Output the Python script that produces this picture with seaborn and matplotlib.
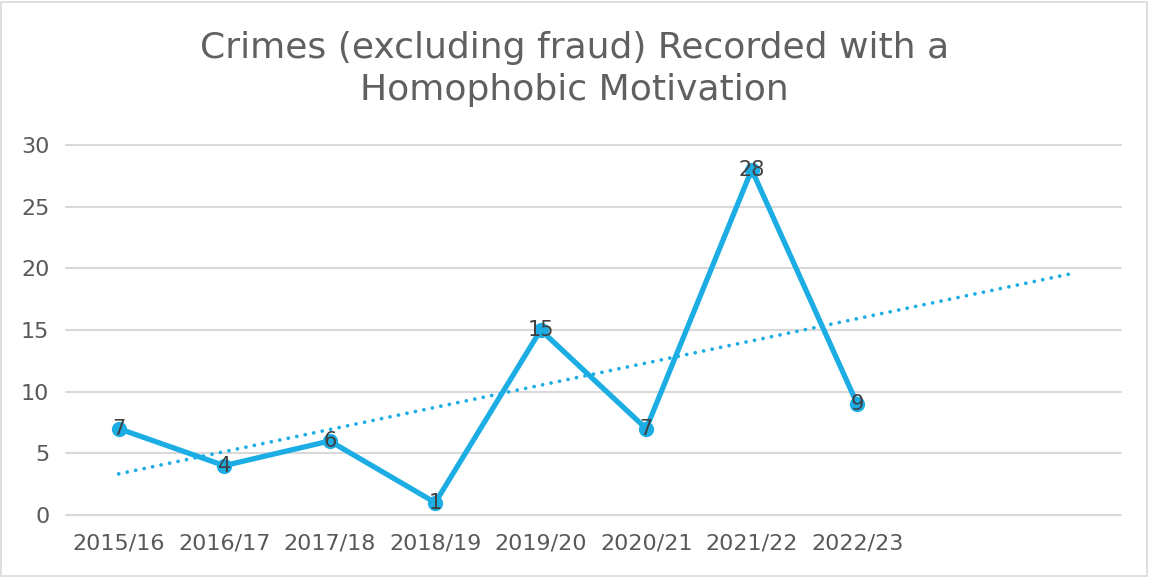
import numpy as np
import pandas as pd
import matplotlib
matplotlib.use("Agg")
import matplotlib.pyplot as plt
import seaborn as sns
from matplotlib.patches import Rectangle

# Datos
years = ["2015/16", "2016/17", "2017/18", "2018/19", "2019/20", "2020/21", "2021/22", "2022/23"]
crimes = [7, 4, 6, 1, 15, 7, 28, 9]
forecast_periods = 2

title = "Crimes (excluding fraud) Recorded with a\nHomophobic Motivation"
blue = "#1CADE4"
grey_text = "#595959"

sns.set_theme(style="white")
plt.rcParams['font.family'] = ['DejaVu Sans']

df = pd.DataFrame({"year": years, "crimes": crimes})
df["pos"] = np.arange(len(df))

fig = plt.figure(figsize=(11.49, 5.77), dpi=100)
ax = fig.add_axes([0.0574, 0.1075, 0.9182, 0.6412])

# Línea de datos
sns.lineplot(data=df, x="pos", y="crimes", ax=ax, color=blue, linewidth=3.8,
             marker="o", markersize=11, markeredgewidth=0, zorder=3)

# Línea de tendencia (regresión lineal, 2 periodos hacia adelante)
slope, intercept = np.polyfit(df["pos"], df["crimes"], 1)
xt = np.array([0, len(df) - 1 + forecast_periods])
ax.plot(xt, intercept + slope * xt, color=blue, linestyle=(0, (0.01, 2.3)),
        linewidth=2.7, dash_capstyle="round", zorder=2)

# Etiquetas de datos
for x, y in zip(df["pos"], df["crimes"]):
    ax.text(x, y, str(y), ha="center", va="center", fontsize=15,
            color="#404040", zorder=4)

ax.set_xlim(-0.5, len(df) - 0.5 + forecast_periods)
ax.set_ylim(0, 30)
ax.set_yticks(range(0, 31, 5))
ax.set_xticks(df["pos"])
ax.set_xticklabels(years)
ax.tick_params(axis="both", labelsize=16, colors=grey_text, length=0)
ax.tick_params(axis="x", pad=13)
ax.tick_params(axis="y", pad=12)
ax.set_xlabel("")
ax.set_ylabel("")
ax.grid(axis="y", color="#D9D9D9", linewidth=1.5)
for gl in ax.get_ygridlines():
    gl.set_clip_on(False)
ax.set_axisbelow(True)
for s in ax.spines.values():
    s.set_visible(False)

fig.text(0.5, 0.815, title, ha="center", va="bottom", fontsize=26,
         color="#606060", linespacing=1.3)

# Borde exterior
fig.patches.append(Rectangle((0.001, 0.002), 0.997, 0.995, transform=fig.transFigure,
                             fill=False, edgecolor="#D9D9D9", linewidth=1.2))

fig.savefig("out.png", dpi=100)
